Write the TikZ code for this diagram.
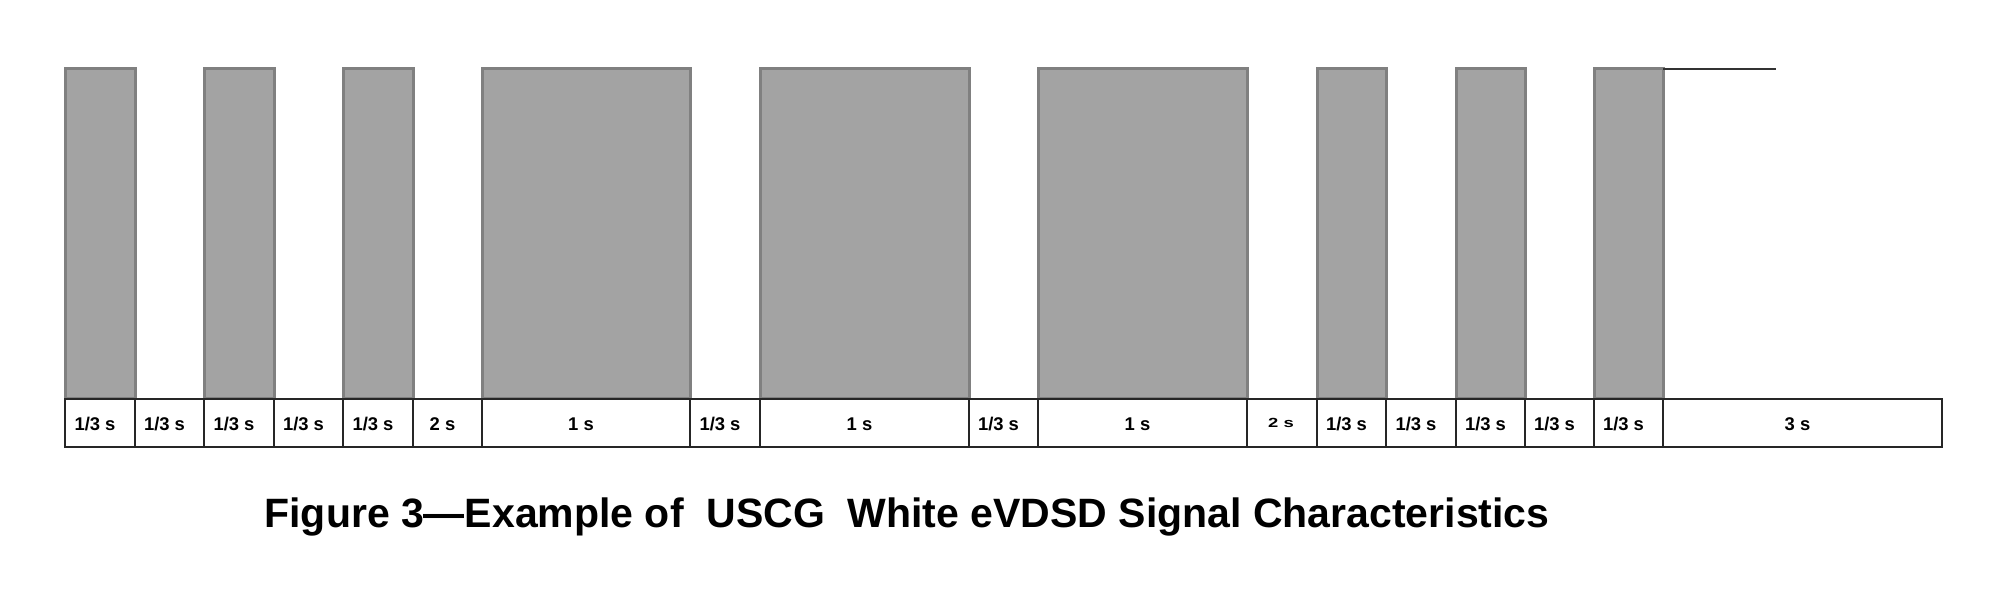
\documentclass[tikz,border=0pt]{standalone}
\usepackage{fontspec}
\setmainfont{Liberation Sans}
\begin{document}
\begin{tikzpicture}[x=0.5pt,y=-0.5pt,
  barstyle/.style={fill=black!36, draw=black!50, line width=1.5pt},
  boxstyle/.style={draw=black!85, line width=1pt, fill=white},
  lbl/.style={font=\fontsize{9.2pt}{11pt}\selectfont\bfseries, inner sep=0pt},
  ttl/.style={font=\fontsize{20.5pt}{24pt}\selectfont\bfseries, inner sep=0pt, anchor=base}]
\useasboundingbox[fill=white] (0,0) rectangle (2000,597);
% pulses
\foreach \a/\b in {65/135, 204/274, 343/413, 482/690, 760/969, 1038/1247, 1317/1386, 1456/1525, 1594/1663}
  \draw[barstyle] (\a,399) rectangle (\b,69);
% trailing line after last pulse
\draw[draw=black!80, line width=1pt] (1663,69) -- (1776,69);
% timing boxes
\foreach \a/\b/\t [count=\i] in {65/135/{1/3 s}, 135/204/{1/3 s}, 204/274/{1/3 s}, 274/343/{1/3 s}, 343/413/{1/3 s}, 413/482/{2 s}, 482/690/{1 s}, 690/760/{1/3 s}, 760/969/{1 s}, 969/1038/{1/3 s}, 1038/1247/{1 s}, 1317/1386/{1/3 s}, 1386/1456/{1/3 s}, 1456/1525/{1/3 s}, 1525/1594/{1/3 s}, 1594/1663/{1/3 s}, 1663/1942/{3 s}}
{
  \draw[boxstyle] (\a,399) rectangle (\b,447);
  \node[lbl] (t\i) at ({(\a+\b)/2-5},424) {\t};
}
\draw[boxstyle] (1247,399) rectangle (1317,447);
\node[lbl] (t2s) at (1281,423) {\scalebox{1}[0.72]{2 s}};
% caption
\node[ttl] (title) at (907,528) {Figure 3—Example of\ \ USCG\ \ White eVDSD Signal Characteristics};
\end{tikzpicture}
\end{document}
